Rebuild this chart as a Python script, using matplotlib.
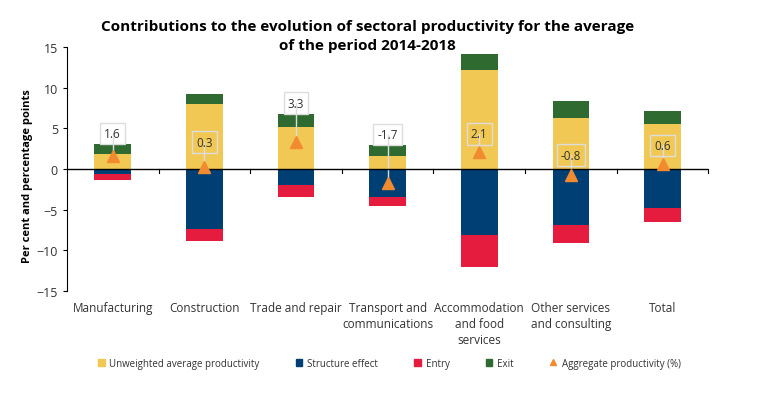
import matplotlib
matplotlib.use("Agg")
import matplotlib.pyplot as plt
from matplotlib.lines import Line2D
from matplotlib.patches import Patch
from matplotlib import font_manager
import numpy as np

plt.rcParams['font.family'] = ['Open Sans', 'DejaVu Sans']

categories = ["Manufacturing", "Construction", "Trade and repair",
              "Transport and\ncommunications", "Accommodation\nand food\nservices",
              "Other services\nand consulting", "Total"]
unweighted = [1.85, 8.0, 5.2, 1.65, 12.2, 6.3, 5.5]
exit_ = [1.2, 1.2, 1.6, 1.3, 1.9, 2.0, 1.6]
structure = [-0.6, -7.4, -2.0, -3.4, -8.1, -6.9, -4.8]
entry = [-0.8, -1.5, -1.4, -1.2, -3.9, -2.2, -1.7]
aggregate = [1.6, 0.3, 3.3, -1.7, 2.1, -0.8, 0.6]
label_y = [4.4, 3.3, 8.1, 4.2, 4.3, 1.7, 2.9]
yticks = [-15, -10, -5, 0, 5, 10, 15]

c_yellow = "#F0C853"
c_blue = "#003F73"
c_red = "#E61C3E"
c_green = "#2F6A31"
c_orange = "#F28A30"

names = {f.name for f in font_manager.fontManager.ttflist}
legend_family = ['Liberation Sans Narrow', 'Open Sans'] if 'Liberation Sans Narrow' in names else ['Open Sans']
legend_size = 8 if 'Liberation Sans Narrow' in names else 7

fig = plt.figure(figsize=(7.6, 4.1), dpi=100)
ax = fig.add_axes([0.088, 0.288, 0.844, 0.595])

x = np.arange(len(categories))
w = 0.4
ax.bar(x, unweighted, w, color=c_yellow, zorder=2)
ax.bar(x, exit_, w, bottom=unweighted, color=c_green, zorder=2)
ax.bar(x, structure, w, color=c_blue, zorder=2)
ax.bar(x, entry, w, bottom=structure, color=c_red, zorder=2)

for xi, a, ly in zip(x, aggregate, label_y):
    ax.plot([xi, xi], [a, ly], color="#dddddd", lw=1, zorder=3)
    ax.text(xi, ly, f"{a:.1f}", ha="center", va="center", fontsize=8.5, color="#333333",
            bbox=dict(boxstyle="square,pad=0.35", fc="none", ec="#dddddd", lw=1), zorder=5)
ax.plot(x, aggregate, linestyle="none", marker="^", markersize=9, color=c_orange, zorder=4)

ax.set_xlim(-0.5, len(categories) - 0.5)
ax.set_ylim(-15, 15)
ax.set_yticks(yticks)
ax.tick_params(axis="y", direction="out", length=3, labelsize=9, labelcolor="#333333", width=0.8)
ax.set_xticks([])
for s in ["top", "right", "bottom"]:
    ax.spines[s].set_visible(False)
ax.spines["left"].set_linewidth(0.8)

ax.axhline(0, color="black", lw=1, zorder=3)
for b in np.arange(0.5, len(categories), 1.0):
    ax.plot([b, b], [0, -0.45], color="black", lw=0.8, zorder=3, clip_on=False)

for xi, c in zip(x, categories):
    ax.text(xi, -16.3, c, ha="center", va="top", fontsize=8.5, color="#333333",
            linespacing=1.3)

ax.set_ylabel("Per cent and percentage points", fontsize=8, fontweight="bold")
ax.yaxis.set_label_coords(-0.053, 0.475)

fig.text(0.483, 0.912, "Contributions to the evolution of sectoral productivity for the average\nof the period 2014-2018",
         ha="center", va="center", fontsize=11, fontweight="bold", linespacing=1.45)

handles = [Patch(color=c_yellow), Patch(color=c_blue), Patch(color=c_red), Patch(color=c_green),
           Line2D([], [], linestyle="none", marker="^", color=c_orange, markersize=5)]
labels = ["Unweighted average productivity", "Structure effect", "Entry", "Exit",
          "Aggregate productivity (%)"]
fig.legend(handles, labels, loc="center", bbox_to_anchor=(0.512, 0.112), ncol=5, frameon=False,
           prop={'family': legend_family, 'size': legend_size},
           handlelength=0.7, handleheight=0.7, handletextpad=0.5,
           columnspacing=3.7, labelcolor="#333333")

fig.savefig("out.png", dpi=100)
